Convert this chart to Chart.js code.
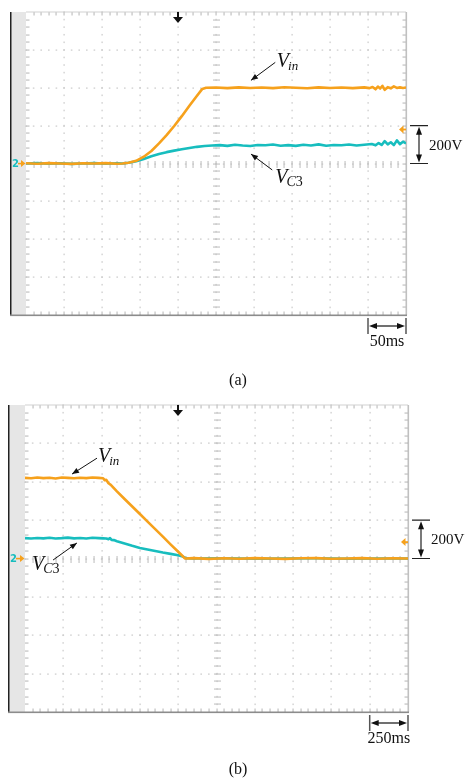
<!DOCTYPE html>
<html><head><meta charset="utf-8">
<script src="https://cdn.jsdelivr.net/npm/chart.js@4.4.1/dist/chart.umd.min.js"></script>
<style>
html,body{margin:0;padding:0;background:#fff;width:465px;height:784px;overflow:hidden}
canvas{position:absolute;left:0}
#ca{top:0}
#cb{top:392px}
</style></head><body>
<canvas id="ca" width="465" height="392"></canvas>
<canvas id="cb" width="465" height="392"></canvas>
<script>
// ---------- DATA (ms, V) ----------
// Panel (a): 50 ms/div, 200 V/div
const gridXA = [0,50,100,150,200,250,300,350,400,450,500];
const gridY  = [-800,-600,-400,-200,0,200,400,600,800];
const timeVinA = [0,15,30,45,60,75,90,105,120,127,135,145,155,165,175,185,195,205,215,225,232,237,250,265,280,295,310,325,340,355,370,385,400,415,430,445,452,456,460,463,466,469,472,476,480,484,488,492,496,500];
const vinA     = [1,-1,2,0,-2,1,0,2,-1,0,4,14,36,66,106,150,198,250,305,358,394,400,401,398,402,399,401,398,403,400,397,402,399,401,398,402,398,404,392,406,396,410,389,403,397,407,399,402,399,401];
const timeVcA  = [0,15,30,45,60,75,90,105,120,127,135,145,155,165,175,185,195,205,215,225,235,245,255,265,275,285,295,305,315,325,335,345,355,365,375,385,395,405,415,425,435,445,455,460,464,468,472,476,480,484,488,492,496,500];
const vcA      = [0,2,-1,1,-2,0,2,-1,1,0,4,12,24,38,50,60,68,75,82,88,92,95,97,93,99,95,92,98,96,100,94,97,93,99,95,101,94,98,96,100,95,99,103,96,108,98,118,101,112,97,122,102,115,106];

// Panel (b): 250 ms/div, 200 V/div
const gridXB = [0,250,500,750,1000,1250,1500,1750,2000,2250,2500];
const timeVinB = [0,40,80,120,160,200,240,280,320,360,400,440,480,510,520,530,545,560,600,650,700,750,800,850,900,950,1000,1030,1045,1100,1200,1300,1400,1500,1600,1700,1800,1900,2000,2100,2200,2300,2400,2500];
const vinB     = [420,418,422,419,421,417,422,420,418,421,419,422,420,418,408,410,392,384,350,310,271,232,192,153,114,74,35,12,0,2,-2,1,-1,2,0,-2,1,2,-1,0,2,-1,1,0];
const timeVcB  = [0,40,80,120,160,200,240,280,320,360,400,440,480,510,530,545,555,565,580,600,650,700,750,800,850,900,950,1000,1030,1050,1100,1300,1500,1700,1900,2100,2300,2500];
const vcB      = [106,104,107,105,108,104,106,109,105,107,104,108,106,105,104,101,106,97,96,90,78,66,55,47,39,31,24,17,10,2,0,1,-1,0,1,-1,0,0];

const ORANGE = '#F6A11C';
const CYAN = '#17BDBE';

function pts(t, v){ return t.map((x,i)=>({x:x, y:v[i]})); }

function arrowHead(ctx, x1, y1, x2, y2, len, w){
  const a = Math.atan2(y2-y1, x2-x1);
  const bx = x2 - len*Math.cos(a), by = y2 - len*Math.sin(a);
  ctx.beginPath();
  ctx.moveTo(x2, y2);
  ctx.lineTo(bx + w*Math.sin(a), by - w*Math.cos(a));
  ctx.lineTo(bx - w*Math.sin(a), by + w*Math.cos(a));
  ctx.closePath(); ctx.fill();
}

const scopePlugin = {
  id: 'scope',
  beforeDatasetsDraw(chart, args, o){
    const ctx = chart.ctx, a = chart.chartArea;
    const xs = chart.scales.x, ys = chart.scales.y;
    const gx = o.gridX, gy = o.gridY;
    const xSub = (gx[1]-gx[0])/5, ySub = (gy[1]-gy[0])/5;
    ctx.save();
    // left strip + frame
    ctx.fillStyle = '#e6e6e6';
    ctx.fillRect(o.frameX, a.top, a.left - o.frameX, a.bottom - a.top);
    ctx.fillStyle = '#222';
    ctx.fillRect(o.frameX - 1, a.top, 1.5, a.bottom - a.top + 1);
    // dotted grid
    ctx.fillStyle = '#cacaca';
    for (let i = 1; i < gx.length-1; i++){
      const px = Math.round(xs.getPixelForValue(gx[i]));
      for (let v = gy[0]; v <= gy[gy.length-1]; v += ySub){
        const py = ys.getPixelForValue(v);
        ctx.fillRect(px-0.5, py-0.8, 1.2, 1.6);
      }
    }
    for (let j = 1; j < gy.length-1; j++){
      const py = Math.round(ys.getPixelForValue(gy[j]));
      for (let t = gx[0]; t <= gx[gx.length-1]+1e-6; t += xSub){
        const px = xs.getPixelForValue(t);
        ctx.fillRect(px-0.8, py-0.5, 1.6, 1.2);
      }
    }
    // center cross ticks
    ctx.fillStyle = '#c2c2c2';
    const cx = Math.round(xs.getPixelForValue(gx[5]));
    const cy = Math.round(ys.getPixelForValue(gy[4]));
    for (let t = gx[0]+xSub; t < gx[gx.length-1]; t += xSub){
      const px = Math.round(xs.getPixelForValue(t));
      ctx.fillRect(px-0.5, cy-3, 1.1, 7);
    }
    for (let v = gy[0]+ySub; v < gy[gy.length-1]; v += ySub){
      const py = Math.round(ys.getPixelForValue(v));
      ctx.fillRect(cx-3, py-0.5, 7, 1.1);
    }
    // edge ticks
    ctx.fillStyle = '#bcbcbc';
    for (let t = gx[0]+xSub; t < gx[gx.length-1]; t += xSub){
      const px = Math.round(xs.getPixelForValue(t));
      ctx.fillRect(px-0.5, a.top, 1.1, 3.5);
      ctx.fillRect(px-0.5, a.bottom-3.5, 1.1, 3.5);
    }
    for (let v = gy[0]+ySub; v < gy[gy.length-1]; v += ySub){
      const py = Math.round(ys.getPixelForValue(v));
      ctx.fillRect(a.left, py-0.5, 3.5, 1.1);
      ctx.fillRect(a.right-3.5, py-0.5, 3.5, 1.1);
    }
    // borders
    ctx.fillStyle = '#d2d2d2';
    ctx.fillRect(a.left, a.top-0.5, a.right - a.left, 1);
    ctx.fillStyle = '#c0c0c0';
    ctx.fillRect(a.right-0.5, a.top, 1.6, a.bottom - a.top);
    ctx.fillStyle = '#8c8c8c';
    ctx.fillRect(o.frameX - 1, a.bottom-0.5, a.right - o.frameX + 2, 1.6);
    ctx.restore();
  },
  afterDatasetsDraw(chart, args, o){
    const ctx = chart.ctx, a = chart.chartArea;
    const xs = chart.scales.x, ys = chart.scales.y;
    const gx = o.gridX;
    ctx.save();
    // trigger arrow
    const tx = Math.round(xs.getPixelForValue(o.trigger));
    ctx.fillStyle = '#111'; ctx.strokeStyle = '#111';
    ctx.fillRect(tx-1, a.top, 2, 6);
    ctx.beginPath(); ctx.moveTo(tx-5, a.top+5); ctx.lineTo(tx+5, a.top+5); ctx.lineTo(tx, a.top+11); ctx.closePath(); ctx.fill();
    // channel marker left
    const y0 = ys.getPixelForValue(0);
    ctx.fillStyle = CYAN;
    ctx.font = 'bold 10px "DejaVu Sans"';
    ctx.textBaseline = 'middle'; ctx.textAlign = 'left';
    ctx.fillText('2', o.frameX + 1, y0 + 1);
    ctx.fillStyle = ORANGE;
    ctx.fillRect(o.frameX + 7, y0 - 0.7, 5, 1.6);
    ctx.beginPath(); ctx.moveTo(a.left - 5, y0 - 3.5); ctx.lineTo(a.left - 0.5, y0); ctx.lineTo(a.left - 5, y0 + 3.5); ctx.closePath(); ctx.fill();
    // right orange marker
    const ym = ys.getPixelForValue(o.refMarker);
    ctx.beginPath(); ctx.moveTo(a.right - 7, ym); ctx.lineTo(a.right - 2.5, ym - 4); ctx.lineTo(a.right - 2.5, ym + 4); ctx.closePath(); ctx.fill();
    ctx.fillRect(a.right - 4, ym - 0.8, 4, 1.8);
    // trace labels
    ctx.fillStyle = '#111'; ctx.strokeStyle = '#111'; ctx.lineWidth = 1;
    ctx.textBaseline = 'alphabetic';
    for (const L of o.labels){
      const lx = xs.getPixelForValue(L.t), ly = ys.getPixelForValue(L.v);
      ctx.font = 'italic 20px "Liberation Serif"';
      ctx.fillText('V', lx, ly);
      let sx = lx + ctx.measureText('V').width - 1;
      if (L.sub === 'in'){
        ctx.font = 'italic 13px "Liberation Serif"';
        ctx.fillText('in', sx, ly + 3);
      } else {
        ctx.font = 'italic 14px "Liberation Serif"';
        ctx.fillText('C', sx, ly + 3);
        sx += ctx.measureText('C').width;
        ctx.font = '14px "Liberation Serif"';
        ctx.fillText('3', sx, ly + 3);
      }
      const x1 = xs.getPixelForValue(L.from[0]), y1 = ys.getPixelForValue(L.from[1]);
      const x2 = xs.getPixelForValue(L.to[0]), y2 = ys.getPixelForValue(L.to[1]);
      ctx.beginPath(); ctx.moveTo(x1, y1); ctx.lineTo(x2, y2); ctx.stroke();
      arrowHead(ctx, x1, y1, x2, y2, 7, 2.8);
    }
    // volts/div bracket
    const yb0 = ys.getPixelForValue(0), yb1 = ys.getPixelForValue(o.vDiv);
    const bx0 = a.right + 4, bx1 = a.right + 22, bxm = a.right + 13;
    ctx.strokeStyle = '#222'; ctx.fillStyle = '#111'; ctx.lineWidth = 1.2;
    ctx.beginPath(); ctx.moveTo(bx0, yb1); ctx.lineTo(bx1, yb1); ctx.moveTo(bx0, yb0); ctx.lineTo(bx1, yb0);
    ctx.moveTo(bxm, yb1 + 4); ctx.lineTo(bxm, yb0 - 4); ctx.stroke();
    arrowHead(ctx, bxm, yb0, bxm, yb1 + 1, 8, 3);
    arrowHead(ctx, bxm, yb1, bxm, yb0 - 1, 8, 3);
    ctx.font = '15px "Liberation Serif"'; ctx.textBaseline = 'middle'; ctx.textAlign = 'left';
    ctx.fillText(o.vText, a.right + 23, (yb0 + yb1)/2 + 1);
    // time/div bracket
    const tx0 = xs.getPixelForValue(gx[gx.length-2]), tx1 = xs.getPixelForValue(gx[gx.length-1]);
    const ty0 = a.bottom + 3, ty1 = a.bottom + 19, tym = a.bottom + 11;
    ctx.strokeStyle = '#555'; ctx.lineWidth = 1.5;
    ctx.beginPath(); ctx.moveTo(tx0, ty0); ctx.lineTo(tx0, ty1); ctx.moveTo(tx1, ty0); ctx.lineTo(tx1, ty1); ctx.stroke();
    ctx.strokeStyle = '#111'; ctx.lineWidth = 1.2;
    ctx.beginPath(); ctx.moveTo(tx0 + 4, tym); ctx.lineTo(tx1 - 4, tym); ctx.stroke();
    arrowHead(ctx, tx1, tym, tx0 + 1, tym, 8, 3);
    arrowHead(ctx, tx0, tym, tx1 - 1, tym, 8, 3);
    ctx.font = '16px "Liberation Serif"'; ctx.textAlign = 'center';
    ctx.fillText(o.tText, (tx0 + tx1)/2, a.bottom + o.tTextDy);
    // caption
    ctx.fillText(o.caption, 238, o.captionY);
    ctx.restore();
  }
};

function makeChart(id, vinPts, vcPts, xmax, pad, opts){
  return new Chart(document.getElementById(id), {
    type: 'line',
    data: { datasets: [
      { label: 'Vin', data: vinPts, borderColor: ORANGE, borderWidth: 2.6, pointRadius: 0, tension: 0, borderJoinStyle: 'round' },
      { label: 'VC3', data: vcPts, borderColor: CYAN, borderWidth: 2.6, pointRadius: 0, tension: 0, borderJoinStyle: 'round' }
    ]},
    options: {
      responsive: false, animation: false, devicePixelRatio: 1,
      layout: { padding: pad },
      scales: {
        x: { type: 'linear', min: 0, max: xmax, display: false },
        y: { min: -800, max: 800, display: false }
      },
      plugins: { legend: { display: false }, tooltip: { enabled: false }, scope: opts }
    },
    plugins: [scopePlugin]
  });
}

makeChart('ca', pts(timeVinA, vinA), pts(timeVcA, vcA), 500,
  { left: 26, right: 59, top: 12, bottom: 77 },
  { gridX: gridXA, gridY: gridY, frameX: 11, trigger: 200, refMarker: 180, vDiv: 200, vText: '200V', tText: '50ms', tTextDy: 27, caption: '(a)', captionY: 381,
    labels: [
      { sub: 'in', t: 330, v: 508, from: [328, 534], to: [296, 439] },
      { sub: 'C3', t: 328, v: -103, from: [324, -34], to: [296, 50] }
    ] });

makeChart('cb', pts(timeVinB, vinB), pts(timeVcB, vcB), 2500,
  { left: 25, right: 57, top: 13, bottom: 72 },
  { gridX: gridXB, gridY: gridY, frameX: 9, trigger: 1000, refMarker: 86, vDiv: 200, vText: '200V', tText: '250ms', tTextDy: 27, caption: '(b)', captionY: 378,
    labels: [
      { sub: 'in', t: 476, v: 503, from: [470, 523], to: [307, 440] },
      { sub: 'C3', t: 46, v: -60, from: [183, -8], to: [339, 81] }
    ] });
</script>
</body></html>
